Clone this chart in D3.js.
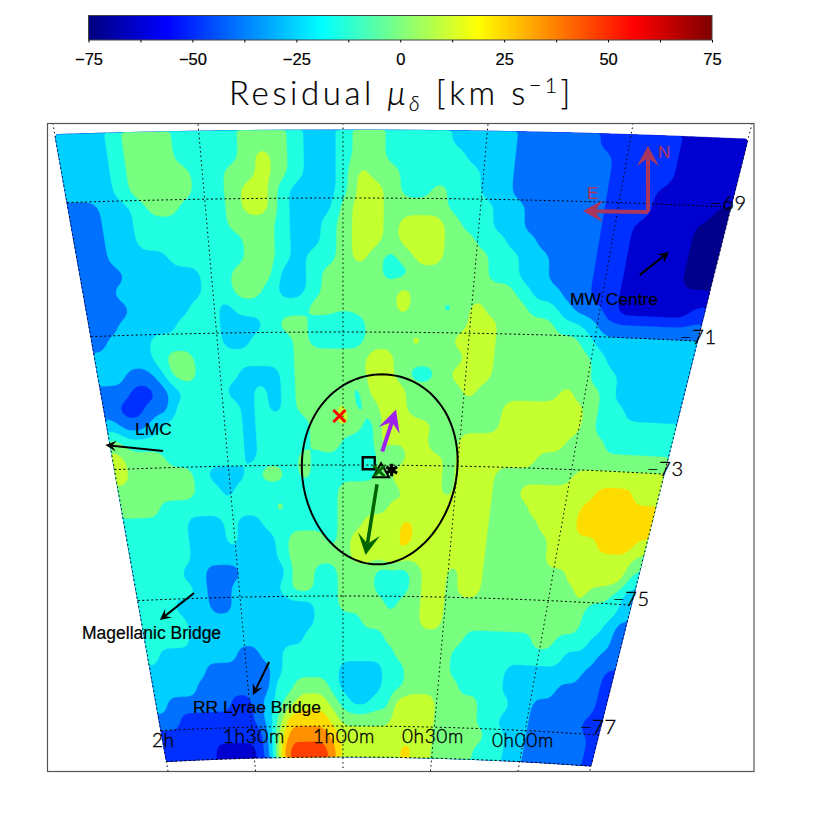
<!DOCTYPE html>
<html><head><meta charset="utf-8">
<script src="https://cdn.jsdelivr.net/npm/d3@7"></script>
<style>
html,body{margin:0;padding:0;background:#fff}
svg{display:block}
.hershey{font-family:Lato,"Open Sans",sans-serif;font-weight:300;fill:#000;stroke:#000;stroke-width:.35}
.helv{font-family:"Liberation Sans",Arial,sans-serif;fill:#000;stroke:#000;stroke-width:.2}
</style></head><body><div id="c"></div>
<script>
// ---------- DATA ----------
const levels = [-62.5,-50,-37.5,-25,-12.5,0,12.5,25,37.5,50];       // band values, km/s
const bandColors = ["#0000d0","#0030ff","#0070ff","#00d0ff","#20ffe0","#78ff80","#c4ff30","#ffdc00","#ff9000","#ff4000"];
const deepLevel = -75, deepColor = "#00008c";
const deepCells = [[4,41],[5,40],[5,41],[6,40],[6,41],[7,40],[7,41],[8,40],[8,41]]; // [row, col] of the darkest patch
const cbTicks = [-75,-62.5,-50,-37.5,-25,-12.5,0,12.5,25,37.5,50,62.5,75];
const cbLabels = [-75,-50,-25,0,25,50,75];
const jetDomain = [-75,-56.25,-18.75,18.75,56.25,75];
const jetColors = ["#00007f","#0000ff","#00ffff","#ffff00","#ff0000","#7f0000"];
const raTicks = [2,1.5,1,0.5,0];
const decTicks = [-69,-71,-73,-75,-77];
const gridCols = 42, raStart = 2, raEnd = -0.41, decStart = -68, decEnd = -77.5;
// band index per cell: rows go from north (dec -68) to south (dec -77.5), columns from RA 2h to RA -0h24
const gridRows = [
[3,3,3,4,5,5,5,4,4,4,4,5,5,5,4,3,3,4,5,5,4,4,4,4,3,3,3,3,2,2,2,2,2,1,1,1,1,1,0,0,0,0],
[3,3,3,4,5,5,5,4,4,4,4,5,6,5,4,3,3,4,5,5,4,4,4,4,4,3,3,3,2,2,2,2,2,2,1,1,1,1,0,0,0,0],
[3,3,3,4,5,5,5,5,4,4,5,5,6,5,4,3,3,4,6,5,5,4,4,4,4,4,3,3,2,2,2,2,2,2,1,1,1,1,0,0,0,0],
[3,3,3,4,5,5,5,5,4,4,5,6,6,4,3,3,3,4,6,6,5,4,4,5,4,4,3,3,2,2,2,2,2,2,1,1,1,0,0,0,0,0],
[2,2,3,3,4,5,5,4,4,4,5,6,6,4,3,3,3,5,6,6,5,5,5,5,4,4,4,3,3,2,2,2,2,2,1,1,1,0,0,0,0,0],
[2,2,3,3,4,4,4,4,4,4,5,5,5,4,3,3,4,5,6,6,5,6,6,6,5,4,4,3,3,2,2,2,2,2,1,1,0,0,0,0,0,0],
[2,2,3,3,4,4,4,4,4,4,4,5,5,4,3,3,4,5,6,6,5,6,6,6,5,5,4,4,3,3,2,2,2,2,1,1,0,0,0,0,0,0],
[2,2,3,3,3,3,4,4,4,4,4,5,5,4,3,4,4,5,6,5,4,5,6,6,5,5,5,4,4,3,3,2,2,2,1,1,0,0,0,0,0,0],
[2,2,2,3,3,3,3,3,4,4,5,5,5,3,3,4,5,5,5,5,4,4,5,5,5,5,5,4,4,3,3,2,2,2,1,1,0,0,0,0,0,0],
[2,2,3,3,3,3,3,3,4,4,5,5,4,3,3,4,5,5,5,5,5,6,5,5,5,5,5,5,5,4,3,3,2,2,1,1,0,0,0,0,0,0],
[2,2,2,3,3,3,3,4,4,3,4,4,4,4,4,5,5,5,5,5,5,6,5,5,4,5,6,5,5,5,4,4,3,2,2,1,0,0,0,0,0,1],
[2,2,3,3,3,3,4,4,4,3,3,3,4,5,5,4,4,3,4,5,5,5,5,5,5,5,6,6,5,5,5,5,4,4,3,2,2,2,2,2,2,2],
[2,3,3,3,4,4,4,4,4,3,3,4,4,4,5,4,4,4,4,5,5,5,6,5,5,6,6,6,5,5,5,5,5,5,4,3,3,3,3,3,3,3],
[3,3,3,3,4,5,5,4,4,4,4,4,4,4,5,5,5,5,5,6,6,5,5,5,5,5,6,6,5,5,5,5,5,5,5,4,3,3,3,3,3,3],
[3,3,2,2,3,5,5,4,4,4,3,3,3,4,5,5,5,5,5,6,6,5,4,4,5,6,6,6,5,5,5,5,5,5,5,4,4,3,3,3,3,3],
[2,2,1,1,2,3,4,4,4,3,3,4,3,4,5,5,5,5,4,6,6,6,5,5,5,5,6,5,5,5,5,5,5,6,5,5,4,3,3,3,3,3],
[2,1,1,2,2,4,4,4,4,4,3,4,3,4,5,5,5,6,4,5,6,6,5,4,5,5,5,5,5,6,6,6,6,6,6,5,4,4,3,3,3,3],
[3,2,2,3,4,4,4,4,4,4,3,4,4,4,4,5,5,6,5,4,6,6,6,6,5,5,5,5,5,6,6,6,6,6,6,5,4,4,4,4,4,4],
[5,4,4,4,4,4,4,4,4,4,3,4,4,4,4,5,6,4,4,4,6,6,6,6,4,5,6,6,6,6,6,6,6,6,5,5,5,4,4,4,4,4],
[6,5,5,5,4,4,4,4,4,4,3,4,4,4,5,4,4,4,4,4,5,4,6,6,6,5,6,6,6,6,6,6,5,5,5,5,5,5,5,5,5,5],
[6,5,5,5,5,5,4,3,3,3,4,5,5,4,5,4,4,4,4,4,5,6,7,5,6,5,6,6,6,5,5,5,5,5,5,6,6,6,6,6,6,6],
[5,5,5,5,5,5,4,4,3,4,4,4,4,4,4,4,4,5,5,5,5,5,6,6,6,5,6,6,6,5,5,6,6,6,6,6,6,7,7,7,6,6],
[5,5,5,4,4,4,4,4,4,4,4,4,5,4,4,4,4,5,5,5,5,6,5,6,6,6,6,6,6,5,5,5,6,6,6,6,7,7,7,7,7,7],
[4,4,4,4,4,3,3,3,4,3,3,4,4,4,4,4,4,5,5,6,6,6,7,6,6,6,6,6,6,5,5,5,5,6,6,6,7,7,7,7,7,7],
[4,4,4,4,4,3,3,3,4,3,3,3,4,5,5,5,4,5,6,6,6,6,7,6,6,6,6,6,6,5,5,5,5,5,6,6,6,6,7,7,7,6],
[4,4,4,4,4,3,3,3,3,3,3,3,4,5,5,5,5,5,6,6,6,7,6,6,6,6,6,6,6,5,5,5,5,5,6,6,6,6,6,6,6,5],
[4,4,4,4,3,3,2,2,2,3,3,3,3,5,5,4,4,5,5,5,4,4,4,5,6,6,5,6,6,5,5,5,5,5,5,5,6,6,6,6,6,4],
[4,4,4,4,4,3,2,2,3,3,3,3,4,5,5,4,4,5,5,5,4,4,4,5,6,6,5,6,6,5,5,5,5,5,5,5,5,6,5,5,4,3],
[4,4,4,3,3,3,2,2,3,3,3,3,3,3,3,4,4,5,5,5,5,4,5,5,6,6,5,5,5,5,5,5,5,5,5,5,5,5,4,4,4,3],
[4,4,4,4,3,3,3,3,3,3,3,3,3,3,3,4,4,4,4,5,5,5,5,5,6,6,5,5,5,5,5,5,5,5,5,5,5,5,4,4,3,2],
[4,4,4,4,3,3,3,3,3,3,3,3,3,3,4,4,4,4,4,4,4,5,5,5,5,5,5,5,4,4,4,4,4,4,5,5,4,4,4,3,3,2],
[4,3,3,3,3,3,3,3,2,2,3,3,4,4,4,4,4,4,4,4,4,4,5,5,5,5,5,4,4,4,4,4,4,4,4,4,4,3,3,3,2,2],
[3,3,3,3,3,2,2,2,2,2,2,3,4,4,4,4,4,3,3,3,3,4,4,5,5,5,5,4,4,4,4,4,3,3,3,3,3,3,3,2,2,1],
[3,3,3,3,2,2,2,2,2,2,2,4,4,5,5,5,4,3,3,3,3,4,4,5,5,5,5,5,4,4,4,4,3,3,3,3,3,2,2,2,2,1],
[3,2,2,2,2,2,2,1,1,2,3,4,5,6,6,6,5,4,3,3,4,4,6,6,6,6,5,5,5,5,4,4,4,3,3,2,2,2,2,2,2,1],
[2,2,1,1,1,1,1,1,1,2,3,5,7,7,7,7,6,5,5,5,5,5,6,6,6,6,5,5,5,5,4,4,3,3,3,2,2,2,2,2,1,1],
[1,1,1,1,1,1,1,1,1,1,3,6,8,8,8,8,7,6,6,6,6,6,6,6,6,6,5,5,5,5,5,4,4,3,3,2,2,2,2,2,2,1],
[1,1,1,1,1,0,0,0,0,1,3,7,9,9,9,9,8,6,6,6,6,6,6,7,6,6,5,5,5,5,4,4,4,3,3,2,2,2,2,2,2,1]
];
// annotations in sky coordinates [RA hours, Dec deg]
const smcEllipse = {ra:0.84, dec:-73.075, semiRa:0.34, semiDec:1.44};
const blackArrows = [
  [[1.776,-72.747],[2.02,-72.627]],
  [[-0.128,-70.06],[-0.22,-69.704]],
  [[1.721,-74.918],[1.907,-75.311]],
  [[1.38,-76.005],[1.478,-76.508]]
];
const purpleArrow = [[0.8305,-72.795],[0.7785,-72.162]];
const greenArrow  = [[0.8495,-73.293],[0.894,-74.374]];
const compassN    = [[-0.112,-69.124],[-0.066,-68.159]];
const compassE    = [[-0.112,-69.124],[0.126,-69.142]];
const redCross = [1.015,-72.263], greenCross=[0.842,-73.09], square=[0.888,-72.973], triangle=[0.833,-73.113], star=[0.787,-73.073];

// ---------- SCALES ----------
const W=830,H=830;
const svg=d3.select("#c").append("svg").attr("width",W).attr("height",H);
const raToK=d3.scaleLinear().domain([2,0]).range([-2,2]);
const decToY=d3.scaleLinear().domain([-68,-69,-71,-73,-75,-77,-77.5]).range([130,198,332,465,596,726,757]);
const yToWidth=d3.scaleLinear().domain([124,771]).range([145,87.5]);
function sky(ra,dec){const k=raToK(ra);const y=decToY(dec)+1.15*k*k;return [343+k*yToWidth(y),y];}
const nRows=gridRows.length;
const colToRa=d3.scaleLinear().domain([0,gridCols]).range([raStart,raEnd]);
const rowToDec=d3.scaleLinear().domain([0,nRows]).range([decStart,decEnd]);

// ---------- COLOUR BAR ----------
const cb=d3.scaleLinear().domain([-75,75]).range([88.5,712]);
const defs=svg.append("defs");
const grad=defs.append("linearGradient").attr("id","jet");
jetDomain.forEach((d,i)=>grad.append("stop").attr("offset",(d+75)/150).attr("stop-color",jetColors[i]));
const frameX=47.5,frameY=123.5,frameR=754,frameB=771.5;
defs.append("clipPath").attr("id","fr").append("rect").attr("x",frameX).attr("y",frameY).attr("width",frameR-frameX).attr("height",frameB-frameY);
svg.append("rect").attr("x",88.5).attr("y",15.5).attr("width",623.5).attr("height",24.5).attr("fill","url(#jet)").attr("stroke","#444").attr("stroke-width",1);
const ax=d3.axisBottom(cb).tickValues(cbTicks).tickSize(2.5).tickFormat(d=>cbLabels.includes(d)?d3.format("d")(d):"");
const axg=svg.append("g").attr("transform","translate(0,40)").call(ax);
axg.select(".domain").remove();
axg.selectAll("text").attr("class","helv").attr("font-size",16.5).attr("y",13).attr("dy",".71em").style("font-family","'Liberation Sans'");
axg.selectAll("line").attr("stroke","#000");

const title=svg.append("text").attr("class","hershey").attr("x",229).attr("y",105).attr("font-size",33).style("letter-spacing","3.6px").style("stroke-width",".2");
title.append("tspan").text("Residual  ");
title.append("tspan").text("μ").attr("font-style","italic");
title.append("tspan").text("δ").attr("font-size",21).attr("dy",6).attr("font-style","italic");
title.append("tspan").text("  [km  s").attr("dy",-6);
title.append("tspan").text("−1").attr("font-size",21).attr("dy",-12);
title.append("tspan").text("]").attr("dy",12);

// ---------- MAP ----------
const fine=4;
const fw=gridCols*fine, fh=nRows*fine;
const coarse=gridRows.flat().map(i=>levels[i]);
deepCells.forEach(([r,c])=>{coarse[r*gridCols+c]=deepLevel;});
const fineVals=new Float64Array(fw*fh);
for(let j=0;j<fh;j++)for(let i=0;i<fw;i++)fineVals[j*fw+i]=coarse[Math.floor(j/fine)*gridCols+Math.floor(i/fine)];
d3.blur2({data:fineVals,width:fw,height:fh},1.2);
const contours=d3.contours().size([fw,fh]);
const project=d3.geoTransform({point(c,r){const p=sky(colToRa(c/fine),rowToDec(r/fine));this.stream.point(p[0],p[1]);}});
const gp=d3.geoPath(project);
const map=svg.append("g");
// painter's order: deepest band over the whole grid is replaced by each higher band
map.append("path").datum(contours.contour(fineVals,-1000)).attr("d",gp).attr("fill",deepColor).attr("stroke",deepColor).attr("stroke-width",.3);
levels.forEach((lv,i)=>{
  map.append("path").datum(contours.contour(fineVals,lv-6.25)).attr("d",gp).attr("fill",bandColors[i]).attr("stroke",bandColors[i]).attr("stroke-width",.3);
});

// ---------- GRID ----------
const line=d3.line();
const grid=svg.append("g").attr("clip-path","url(#fr)").attr("fill","none").attr("stroke","#000").attr("stroke-width",1);
raTicks.concat([raEnd]).forEach(ra=>{
  const pts=[-67.7,-69,-71,-73,-75,-77,-78].map(d=>sky(ra,d));
  grid.append("path").attr("d",line(pts)).attr("stroke-dasharray","1.5 3");
});
decTicks.concat([decEnd]).forEach(dec=>{
  const pts=d3.range(0,25).map(i=>sky(raStart+(raEnd-raStart)*i/24,dec));
  grid.append("path").attr("d",line(pts)).attr("stroke-dasharray","2 2.5");
});
svg.append("rect").attr("x",frameX).attr("y",frameY).attr("width",frameR-frameX).attr("height",frameB-frameY).attr("fill","none").attr("stroke","#555").attr("stroke-width",1.2);

// ---------- ANNOTATIONS ----------
function arrow(g,seg,col,sw,len,half,notch){
  const a=sky(...seg[0]),b=sky(...seg[1]);
  const dx=b[0]-a[0],dy=b[1]-a[1],L=Math.hypot(dx,dy),ux=dx/L,uy=dy/L,nx=-uy,ny=ux;
  const base=[b[0]-ux*len*notch,b[1]-uy*len*notch];
  g.append("path").attr("d",line([a,base])).attr("stroke",col).attr("stroke-width",sw).attr("fill","none");
  g.append("path").attr("d",line([b,[b[0]-ux*len+nx*half,b[1]-uy*len+ny*half],base,[b[0]-ux*len-nx*half,b[1]-uy*len-ny*half]])+"Z").attr("fill",col);
}
const ann=svg.append("g");
const ellPts=d3.range(0,121).map(i=>{const t=i/120*2*Math.PI;return sky(smcEllipse.ra+smcEllipse.semiRa*Math.cos(t),smcEllipse.dec+smcEllipse.semiDec*Math.sin(t));});
ann.append("path").attr("d",line(ellPts)).attr("fill","none").attr("stroke","#000").attr("stroke-width",2);
blackArrows.forEach(s=>arrow(ann,s,"#000",2,11,5.5,.6));
arrow(ann,purpleArrow,"#a020f0",4,22,11,.6);
arrow(ann,greenArrow,"#006400",3.5,21,11,.55);
const crimson="#a8365f";
arrow(ann,compassN,crimson,4,20,11,.6);
arrow(ann,compassE,crimson,4,20,11,.6);
function cross(p,s,col,sw){const c=sky(...p);
  ann.append("path").attr("d",`M${c[0]-s},${c[1]-s}L${c[0]+s},${c[1]+s}M${c[0]-s},${c[1]+s}L${c[0]+s},${c[1]-s}`).attr("stroke",col).attr("stroke-width",sw).attr("fill","none");}
cross(redCross,6,"#ff0000",3);
const sq=sky(...square);
ann.append("path").attr("d",d3.symbol(d3.symbolSquare,144)()).attr("transform",`translate(${sq})`).attr("fill","none").attr("stroke","#000").attr("stroke-width",2.3);
const tr=sky(...triangle);
ann.append("path").attr("d",d3.symbol(d3.symbolTriangle,110)()).attr("transform",`translate(${tr})`).attr("fill","none").attr("stroke","#000").attr("stroke-width",2);
cross(greenCross,5.5,"#006400",3);
const st=sky(...star);
ann.append("path").attr("d",d3.symbol(d3.symbolAsterisk,110)()).attr("transform",`translate(${st})`).attr("fill","none").attr("stroke","#000").attr("stroke-width",3);

// ---------- TEXT ----------
function hershey(t,x,y,size){svg.append("text").attr("class","hershey").attr("x",x).attr("y",y).attr("font-size",size).style("letter-spacing","0.6px").text(t);}
[["−69",710,210],["−71",680,344],["−73",647,476],["−75",613,606],["−77",580,734]].forEach(d=>hershey(d[0],d[1],d[2],20));
[["2h",152,747],["1h30m",223,743],["1h00m",313,743],["0h30m",402,743],["0h00m",492,747]].forEach(d=>hershey(d[0],d[1],d[2],19));
function helv(t,x,y,size,fill){const e=svg.append("text").attr("class","helv").attr("x",x).attr("y",y).attr("font-size",size).text(t);if(fill)e.style("fill",fill).style("stroke",fill);return e;}
helv("LMC",135,435,17.4);
helv("MW Centre",570,305,17.4);
helv("Magellanic Bridge",82,639,17.5);
helv("RR Lyrae Bridge",193,713,17.4);
helv("N",658,158,17,crimson);
helv("E",587,199,17,crimson);
</script></body></html>
